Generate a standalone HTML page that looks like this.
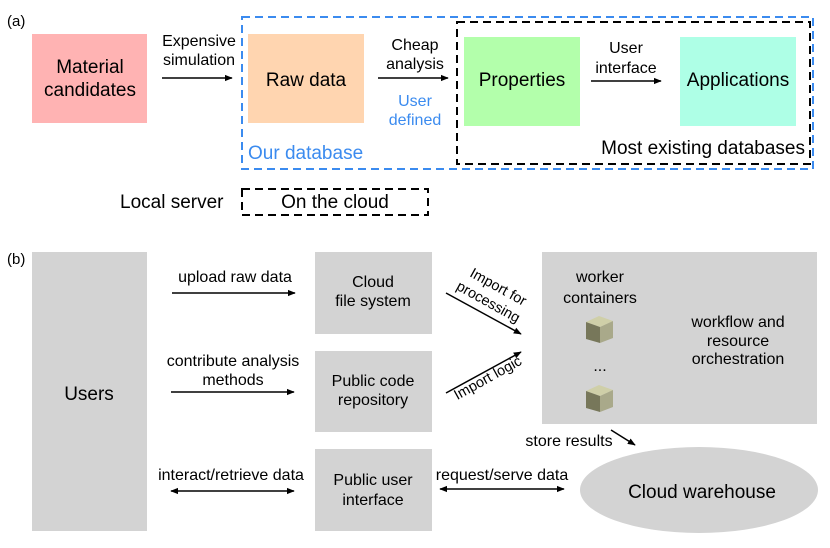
<!DOCTYPE html>
<html><head><meta charset="utf-8"><style>
html,body{margin:0;padding:0;background:#fff;}
svg{display:block;font-family:"Liberation Sans",Arial,sans-serif;}
</style></head><body>
<svg width="830" height="548" viewBox="0 0 830 548" xmlns="http://www.w3.org/2000/svg">
<defs>
<marker id="a" viewBox="0 0 10 10" refX="9" refY="5" markerWidth="8" markerHeight="8" markerUnits="userSpaceOnUse" orient="auto-start-reverse"><path d="M0,1 L10,5 L0,9 z" fill="#000"/></marker>
</defs>
<g font-size="15" fill="#000">
<text x="7" y="26">(a)</text>
<text x="7" y="264">(b)</text>
</g>
<!-- panel a -->
<rect x="32" y="34" width="115" height="89" fill="#ffb3b3"/>
<rect x="248" y="34" width="116" height="89" fill="#ffd5b0"/>
<rect x="464" y="37" width="116" height="89" fill="#b3ffab"/>
<rect x="680" y="37" width="116" height="89" fill="#aeffe6"/>
<rect x="242" y="17" width="571" height="152" fill="none" stroke="#3b8bef" stroke-width="2" stroke-dasharray="8,5"/>
<rect x="457" y="22" width="353" height="142" fill="none" stroke="#000" stroke-width="2" stroke-dasharray="8,5"/>
<rect x="242" y="189" width="186" height="26" fill="none" stroke="#000" stroke-width="2" stroke-dasharray="8,5"/>
<g font-size="19" text-anchor="middle">
<text x="90" y="73">Material</text>
<text x="90" y="96">candidates</text>
<text x="306" y="86">Raw data</text>
<text x="522" y="86">Properties</text>
<text x="738" y="86">Applications</text>
</g>
<g font-size="16" text-anchor="middle">
<text x="199" y="46">Expensive</text>
<text x="199" y="65">simulation</text>
<text x="415" y="50">Cheap</text>
<text x="415" y="69">analysis</text>
<text x="415" y="106" fill="#3b8bef">User</text>
<text x="415" y="125" fill="#3b8bef">defined</text>
<text x="626" y="53">User</text>
<text x="626" y="73">interface</text>
</g>
<line x1="162" y1="78" x2="232" y2="78" stroke="#000" stroke-width="1.5" marker-end="url(#a)"/>
<line x1="378" y1="78" x2="448" y2="78" stroke="#000" stroke-width="1.5" marker-end="url(#a)"/>
<line x1="591" y1="81" x2="661" y2="81" stroke="#000" stroke-width="1.5" marker-end="url(#a)"/>
<text x="248" y="159" font-size="19" fill="#3b8bef">Our database</text>
<text x="805" y="154" font-size="19" text-anchor="end">Most existing databases</text>
<text x="120" y="208" font-size="19">Local server</text>
<text x="335" y="208" font-size="19" text-anchor="middle">On the cloud</text>
<!-- panel b -->
<rect x="32" y="252" width="115" height="279" fill="#d3d3d3"/>
<text x="89" y="400" font-size="19" text-anchor="middle">Users</text>
<rect x="315" y="252" width="117" height="82" fill="#d3d3d3"/>
<rect x="315" y="351" width="117" height="81" fill="#d3d3d3"/>
<rect x="315" y="449" width="117" height="82" fill="#d3d3d3"/>
<rect x="542" y="252" width="275" height="172" fill="#d3d3d3"/>
<ellipse cx="699" cy="490" rx="119" ry="43" fill="#d3d3d3"/>
<g font-size="16" text-anchor="middle">
<text x="373" y="287">Cloud</text>
<text x="373" y="306">file system</text>
<text x="373" y="386">Public code</text>
<text x="373" y="405">repository</text>
<text x="373" y="485">Public user</text>
<text x="373" y="505">interface</text>
<text x="235" y="282">upload raw data</text>
<text x="233" y="366">contribute analysis</text>
<text x="233" y="385">methods</text>
<text x="231" y="480">interact/retrieve data</text>
<text x="502" y="480">request/serve data</text>
<text x="600" y="282">worker</text>
<text x="600" y="303">containers</text>
<text x="600" y="371">...</text>
<text x="738" y="327">workflow and</text>
<text x="738" y="346">resource</text>
<text x="738" y="364">orchestration</text>
<text x="569" y="446">store results</text>
</g>
<text x="702" y="498" font-size="19" text-anchor="middle">Cloud warehouse</text>
<line x1="172" y1="293" x2="295" y2="293" stroke="#000" stroke-width="1.5" marker-end="url(#a)"/>
<line x1="171" y1="392" x2="294" y2="392" stroke="#000" stroke-width="1.5" marker-end="url(#a)"/>
<line x1="171" y1="491" x2="294" y2="491" stroke="#000" stroke-width="1.5" marker-start="url(#a)" marker-end="url(#a)"/>
<line x1="440" y1="489" x2="564" y2="489" stroke="#000" stroke-width="1.5" marker-start="url(#a)" marker-end="url(#a)"/>
<line x1="446" y1="293" x2="521" y2="334" stroke="#000" stroke-width="1.5" marker-end="url(#a)"/>
<line x1="446" y1="393" x2="521" y2="352" stroke="#000" stroke-width="1.5" marker-end="url(#a)"/>
<line x1="611" y1="430" x2="635" y2="445" stroke="#000" stroke-width="1.5" marker-end="url(#a)"/>
<g font-size="14.5" text-anchor="middle">
<text transform="translate(496,291) rotate(29)">Import for</text>
<text transform="translate(486,306) rotate(29)">processing</text>
<text transform="translate(490,382) rotate(-29)">Import logic</text>
</g>
<!-- cubes -->
<g>
<polygon points="586,322 599,316 613,321 600,327" fill="#cfcfa8"/>
<polygon points="586,322 600,327 600,343 586,339" fill="#77775a"/>
<polygon points="600,327 613,321 613,338 600,343" fill="#a9a98a"/>
<polygon points="586,391 599,385 613,390 600,396" fill="#cfcfa8"/>
<polygon points="586,391 600,396 600,412 586,408" fill="#77775a"/>
<polygon points="600,396 613,390 613,407 600,412" fill="#a9a98a"/>
</g>
</svg>
</body></html>
